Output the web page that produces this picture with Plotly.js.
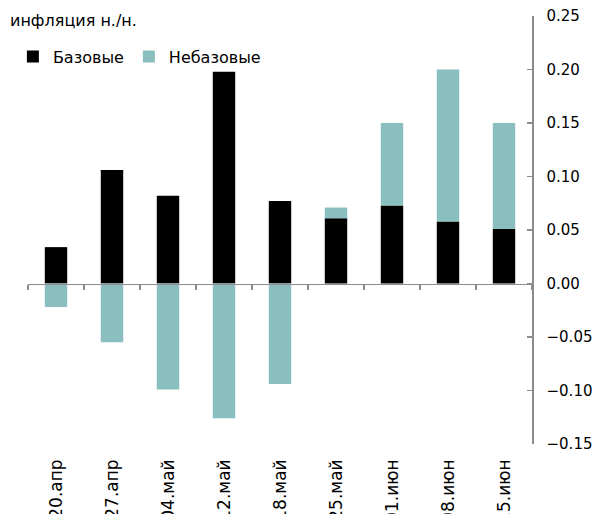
<!DOCTYPE html>
<html><head><meta charset="utf-8">
<script src="https://cdn.plot.ly/plotly-3.0.1.min.js"></script>
<style>body{margin:0;background:#fff}#c{width:594px;height:514px}</style>
</head><body><div id="c"></div>
<script>
const categories = ["20.апр","27.апр","04.май","12.май","18.май","25.май","01.июн","08.июн","15.июн"];
const baseVals = [0.034, 0.106, 0.082, 0.198, 0.077, 0.061, 0.073, 0.058, 0.051];
const nonBaseVals = [-0.022, -0.055, -0.099, -0.126, -0.094, 0.010, 0.077, 0.142, 0.099];
const yTicks = [-0.15,-0.10,-0.05,0,0.05,0.10,0.15,0.20,0.25];
const boundaries = [-0.5,0.5,1.5,2.5,3.5,4.5,5.5,6.5,7.5,8.5];

const font = "'DejaVu Sans', sans-serif";
const gray = "#8c8c8c";
const data = [
  {type:"bar", name:"Базовые", x:categories, y:baseVals, marker:{color:"#000000"}},
  {type:"bar", name:"Небазовые", x:categories, y:nonBaseVals, marker:{color:"#8bbfbf"}},
  {type:"scatter", x:[], y:[], xaxis:"x2", yaxis:"y", showlegend:false, hoverinfo:"skip"}
];
const layout = {
  width:594, height:514,
  margin:{l:28, r:62, t:16, b:70, autoexpand:false},
  barmode:"relative", bargap:0.6,
  paper_bgcolor:"#fff", plot_bgcolor:"#fff",
  font:{family:font, size:15, color:"#000"},
  showlegend:true,
  legend:{orientation:"h", x:-0.03, y:0.905, xanchor:"left", yanchor:"middle", font:{size:16, family:font}, itemwidth:30, tracegroupgap:0, bgcolor:"rgba(0,0,0,0)"},
  xaxis:{type:"category", range:[-0.5,8.5], tickangle:-90, showline:false, ticks:"", showgrid:false, zeroline:false, ticklabelstandoff:11, tickfont:{size:17}, automargin:false, fixedrange:true},
  xaxis2:{overlaying:"x", anchor:"free", position:0.375, range:[-0.5,8.5], tickvals:boundaries, showticklabels:false, ticks:"outside", ticklen:5, tickcolor:gray, tickwidth:1.5, showline:true, linecolor:gray, linewidth:1.5, showgrid:false, zeroline:false},
  yaxis:{side:"right", range:[-0.15,0.25], tickvals:yTicks, tickformat:".2f", showline:true, linecolor:gray, linewidth:1.5, ticks:"inside", ticklen:5, tickcolor:gray, tickwidth:1.5, showgrid:false, zeroline:false, tickfont:{size:15}, ticklabelstandoff:10, automargin:false},
  annotations:[{text:"инфляция н./н.", xref:"paper", yref:"paper", x:-0.04, y:0.99, xanchor:"left", yanchor:"middle", showarrow:false, font:{size:16, family:font}}]
};
Plotly.newPlot("c", data, layout, {displayModeBar:false, staticPlot:true});
</script></body></html>
